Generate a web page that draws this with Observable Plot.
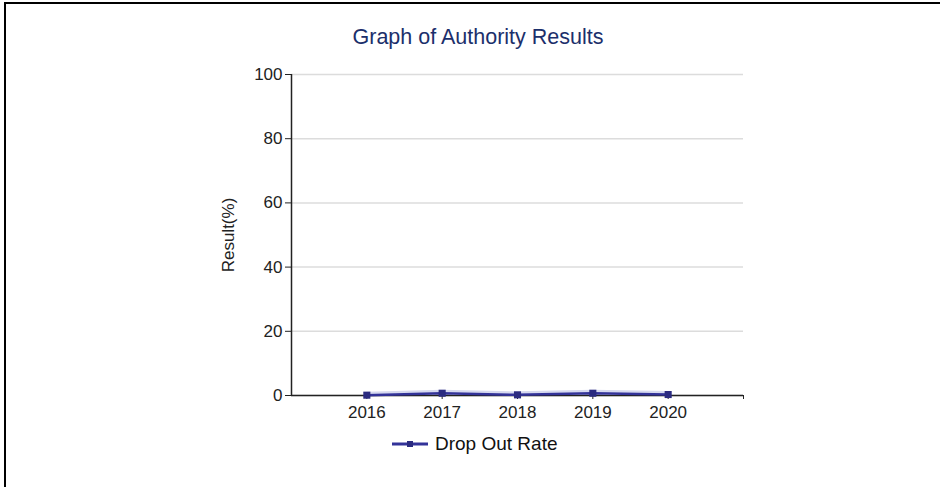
<!DOCTYPE html>
<html><head><meta charset="utf-8">
<script src="https://cdn.jsdelivr.net/npm/d3@7"></script>
<script src="https://cdn.jsdelivr.net/npm/@observablehq/plot@0.6"></script>
<style>
body{margin:0;background:#fff;font-family:"Liberation Sans",Arial,sans-serif;}
#frame{position:absolute;left:4px;top:2px;width:936px;height:485px;border-top:2px solid #000;border-left:2px solid #000;box-sizing:border-box;}
#title{position:absolute;left:0;width:956px;top:25px;text-align:center;font-size:21.5px;color:#1c2f6b;}
#chart{position:absolute;left:0;top:0;}
#legend{position:absolute;left:392px;top:433px;font-size:19px;color:#111;display:flex;align-items:center;}
</style></head><body>
<div id="frame"></div>
<div id="chart"></div>
<div id="title">Graph of Authority Results</div>
<div id="legend"><svg width="36" height="10"><line x1="0" x2="36" y1="5" y2="5" stroke="#333399" stroke-width="3"/><rect x="15" y="2" width="6" height="6" fill="#2b2b80"/></svg><span style="margin-left:7px">Drop Out Rate</span></div>
<script>
const years = [2016, 2017, 2018, 2019, 2020];
const dropOutRate = [0.1, 0.7, 0.2, 0.7, 0.3];
const yTicks = [0, 20, 40, 60, 80, 100];
const xTicks = [2016, 2017, 2018, 2019, 2020, 2021];
const data = years.map((y, i) => ({year: y, value: dropOutRate[i]}));

const chart = Plot.plot({
  width: 940, height: 487,
  marginTop: 74, marginBottom: 92, marginLeft: 291, marginRight: 197,
  x: {domain: [2015, 2021]},
  y: {domain: [0, 100]},
  style: {fontFamily: "'Liberation Sans', Arial, sans-serif", fontSize: "17px", color: "#222", background: "transparent"},
  marks: [
    Plot.gridY(yTicks, {stroke: "#dcdcdc", strokeOpacity: 1, strokeWidth: 1.5}),
    Plot.axisY(yTicks, {tickSize: 6, tickPadding: 3, label: "Result(%)", labelAnchor: "center", labelArrow: "none", labelOffset: 70, fontSize: 17}),
    Plot.axisX(xTicks, {tickFormat: d => d === 2021 ? "" : String(d), tickSize: 4, tickPadding: 6, label: null, fontSize: 17}),
    Plot.ruleY([0], {stroke: "#222", strokeWidth: 1.5}),
    Plot.ruleX([2015], {stroke: "#222", strokeWidth: 1.5}),
    Plot.line(data, {x: "year", y: "value", stroke: "#d6d9ef", strokeWidth: 4, dy: -1.5}),
    Plot.line(data, {x: "year", y: "value", stroke: "#333399", strokeWidth: 2.5}),
    Plot.dot(data, {x: "year", y: "value", symbol: "square", r: 4, fill: "#2b2b80"})
  ]
});
document.getElementById("chart").appendChild(chart);
</script>
</body></html>
